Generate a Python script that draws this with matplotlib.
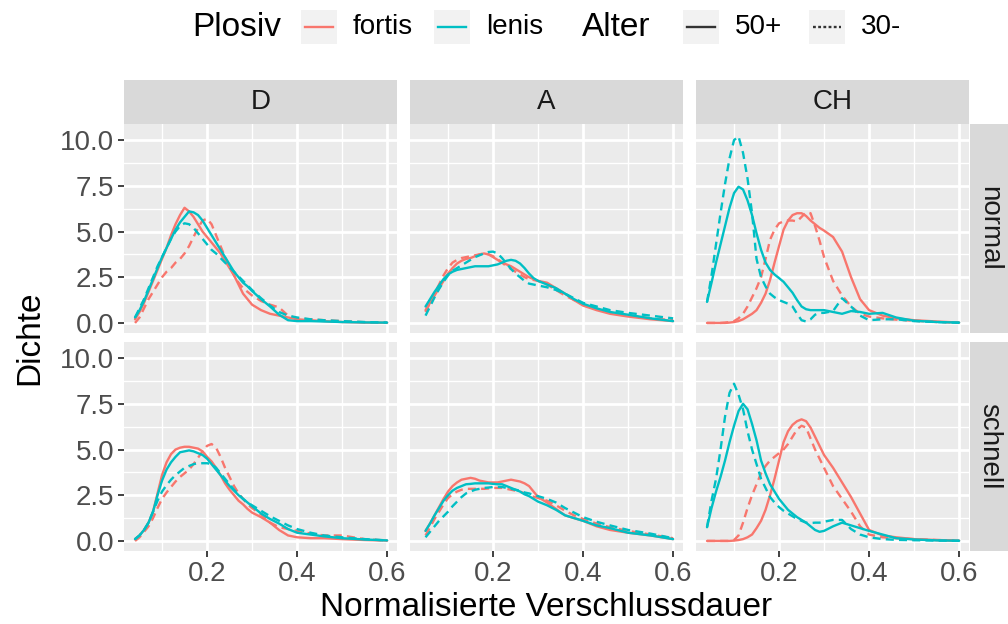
"""Faceted density curves of normalised closure duration (Plosiv x Alter)."""

import numpy as np
import matplotlib

matplotlib.use("Agg")
import matplotlib.pyplot as plt
from matplotlib.lines import Line2D
from matplotlib.patches import Rectangle

plt.rcParams["font.family"] = ["Liberation Sans", "DejaVu Sans"]

nan = float("nan")

# shared x grid of the density curves (normalised closure duration)
X = [0.04, 0.05, 0.06, 0.07, 0.08, 0.09, 0.10, 0.11, 0.12, 0.13, 0.14, 0.15,
     0.16, 0.17, 0.18, 0.19, 0.20, 0.21, 0.22, 0.23, 0.24, 0.25, 0.26, 0.27,
     0.28, 0.29, 0.30, 0.32, 0.34, 0.36, 0.38, 0.40, 0.43, 0.46, 0.50, 0.55,
     0.60]

COLUMNS = ["D", "A", "CH"]
ROWS = ["normal", "schnell"]
PLOSIV = ["fortis", "lenis"]
ALTER = ["50+", "30-"]

# --- row "normal" -----------------------------------------------------------
D_NORMAL_FORTIS_50 = [0.2, 0.6, 1.1, 1.7, 2.3, 2.9, 3.5, 4.1, 4.8, 5.4, 5.9, 6.3,
                      6.1, 5.8, 5.4, 5.0, 4.7, 4.4, 4.1, 3.8, 3.4, 3.0, 2.6, 2.1,
                      1.6, 1.3, 1.0, 0.7, 0.5, 0.4, 0.3, 0.2, 0.15, 0.1, 0.05,
                      0.02, 0.01]
D_NORMAL_FORTIS_30 = [0.0, 0.3, 0.8, 1.3, 1.7, 2.1, 2.5, 2.8, 3.0, 3.3, 3.5, 3.8,
                      4.2, 4.7, 5.2, 5.6, 5.7, 5.4, 4.8, 4.2, 3.6, 3.1, 2.6, 2.2,
                      1.9, 1.7, 1.5, 1.2, 1.0, 0.85, 0.4, 0.25, 0.2, 0.15, 0.1,
                      0.04, 0.02]
D_NORMAL_LENIS_50 = [0.3, 0.7, 1.2, 1.8, 2.4, 3.0, 3.6, 4.1, 4.6, 5.1, 5.5, 5.8,
                     6.1, 6.05, 5.9, 5.6, 5.2, 4.8, 4.4, 4.0, 3.6, 3.2, 2.8, 2.5,
                     2.2, 2.0, 1.75, 1.3, 0.9, 0.45, 0.15, 0.1, 0.1, 0.08, 0.05,
                     0.03, 0.02]
D_NORMAL_LENIS_30 = [0.3, 0.8, 1.3, 1.9, 2.5, 3.1, 3.6, 4.1, 4.6, 5.0, 5.3, 5.45,
                     5.4, 5.2, 4.9, 4.6, 4.3, 4.0, 3.8, 3.55, 3.3, 3.05, 2.8, 2.55,
                     2.3, 2.05, 1.8, 1.35, 0.95, 0.6, 0.4, 0.3, 0.2, 0.15, 0.1,
                     0.05, 0.02]

A_NORMAL_FORTIS_50 = [nan, 0.7, 1.1, 1.5, 1.9, 2.3, 2.7, 3.0, 3.25, 3.4, 3.5, 3.55,
                      3.65, 3.75, 3.8, 3.75, 3.6, 3.45, 3.3, 3.2, 3.1, 2.95, 2.8,
                      2.65, 2.5, 2.4, 2.3, 2.2, 1.9, 1.6, 1.25, 0.95, 0.7, 0.5,
                      0.35, 0.2, 0.1]
A_NORMAL_FORTIS_30 = [nan, 0.6, 1.1, 1.6, 2.1, 2.6, 3.0, 3.3, 3.45, 3.55, 3.6, 3.65,
                      3.7, 3.75, 3.8, 3.75, 3.65, 3.5, 3.3, 3.1, 2.95, 2.8, 2.65,
                      2.5, 2.4, 2.35, 2.3, 2.1, 1.8, 1.5, 1.25, 1.0, 0.75, 0.55,
                      0.4, 0.25, 0.15]
A_NORMAL_LENIS_50 = [nan, 0.9, 1.3, 1.7, 2.05, 2.4, 2.65, 2.8, 2.9, 2.95, 3.0, 3.05,
                     3.1, 3.1, 3.1, 3.1, 3.15, 3.2, 3.3, 3.4, 3.45, 3.4, 3.25, 3.0,
                     2.7, 2.45, 2.3, 2.1, 1.9, 1.6, 1.3, 1.05, 0.8, 0.6, 0.45,
                     0.25, 0.1]
A_NORMAL_LENIS_30 = [nan, 0.4, 0.9, 1.4, 1.85, 2.25, 2.6, 2.85, 3.0, 3.15, 3.3, 3.45,
                     3.6, 3.7, 3.8, 3.88, 3.9, 3.8, 3.55, 3.25, 2.95, 2.7, 2.5, 2.3,
                     2.15, 2.1, 2.05, 1.95, 1.8, 1.6, 1.35, 1.1, 0.9, 0.7, 0.55,
                     0.4, 0.25]

CH_NORMAL_FORTIS_50 = [0.0, 0.0, 0.0, 0.0, 0.0, 0.02, 0.05, 0.1, 0.2, 0.35, 0.5, 0.7,
                       1.1, 1.6, 2.35, 3.3, 4.2, 5.1, 5.6, 5.9, 6.0, 6.0, 5.85, 5.6,
                       5.4, 5.2, 5.05, 4.7, 3.9, 2.5, 1.3, 0.7, 0.4, 0.25, 0.15,
                       0.08, 0.02]
CH_NORMAL_FORTIS_30 = [0.0, 0.0, 0.0, 0.0, 0.02, 0.05, 0.1, 0.25, 0.5, 0.9, 1.4, 1.9,
                       2.5, 3.5, 4.55, 5.1, 5.45, 5.55, 5.6, 5.6, 5.55, 5.8, 6.05,
                       6.0, 5.3, 4.5, 3.6, 2.3, 1.5, 0.9, 0.5, 0.35, 0.25, 0.18,
                       0.12, 0.05, 0.02]
CH_NORMAL_LENIS_50 = [1.15, 2.2, 3.3, 4.3, 5.3, 6.3, 7.1, 7.45, 7.3, 6.7, 5.9, 4.9,
                      4.0, 3.3, 2.9, 2.65, 2.45, 2.25, 1.95, 1.65, 1.25, 0.9, 0.75,
                      0.7, 0.7, 0.7, 0.7, 0.6, 0.5, 0.65, 0.6, 0.5, 0.55, 0.3,
                      0.12, 0.05, 0.02]
CH_NORMAL_LENIS_30 = [1.15, 2.6, 4.3, 6.0, 7.6, 9.0, 10.0, 10.2, 9.3, 7.9, 6.0, 3.5,
                      2.5, 2.0, 1.6, 1.4, 1.25, 1.15, 1.05, 0.9, 0.5, 0.15, 0.08,
                      0.2, 0.45, 0.55, 0.55, 0.65, 1.35, 0.9, 0.4, 0.15, 0.2, 0.2,
                      0.1, 0.05, 0.01]

# --- row "schnell" ----------------------------------------------------------
D_SCHNELL_FORTIS_50 = [0.1, 0.3, 0.6, 1.0, 1.6, 2.6, 3.6, 4.3, 4.75, 5.0, 5.1, 5.15,
                       5.15, 5.1, 5.05, 4.9, 4.6, 4.35, 4.0, 3.6, 3.15, 2.8, 2.5,
                       2.2, 2.0, 1.75, 1.55, 1.3, 1.0, 0.6, 0.3, 0.2, 0.15, 0.15,
                       0.1, 0.05, 0.02]
D_SCHNELL_FORTIS_30 = [0.0, 0.2, 0.5, 0.8, 1.25, 1.8, 2.3, 2.65, 2.95, 3.25, 3.5, 3.7,
                       3.9, 4.2, 4.55, 4.9, 5.2, 5.3, 5.1, 4.6, 4.0, 3.5, 3.0, 2.6,
                       2.3, 2.0, 1.8, 1.45, 1.0, 0.75, 0.65, 0.55, 0.4, 0.3, 0.3,
                       0.1, 0.02]
D_SCHNELL_LENIS_50 = [0.1, 0.3, 0.6, 1.0, 1.6, 2.5, 3.3, 3.9, 4.3, 4.6, 4.85, 4.9,
                      4.95, 4.9, 4.8, 4.7, 4.5, 4.2, 3.9, 3.6, 3.3, 3.0, 2.75, 2.5,
                      2.3, 2.1, 1.9, 1.5, 1.2, 0.95, 0.65, 0.45, 0.35, 0.25, 0.15,
                      0.08, 0.03]
D_SCHNELL_LENIS_30 = [0.1, 0.3, 0.6, 1.0, 1.6, 2.2, 2.7, 3.05, 3.35, 3.6, 3.8, 4.0,
                      4.1, 4.2, 4.25, 4.25, 4.25, 4.2, 4.0, 3.7, 3.4, 3.1, 2.8, 2.55,
                      2.3, 2.1, 1.95, 1.65, 1.35, 1.1, 0.85, 0.65, 0.45, 0.3, 0.2,
                      0.1, 0.03]

A_SCHNELL_FORTIS_50 = [nan, 0.55, 0.95, 1.4, 1.85, 2.3, 2.7, 3.0, 3.2, 3.35, 3.4,
                       3.45, 3.4, 3.3, 3.25, 3.2, 3.2, 3.2, 3.25, 3.3, 3.35, 3.3,
                       3.25, 3.15, 3.0, 2.7, 2.4, 2.1, 1.75, 1.4, 1.25, 1.1, 0.8,
                       0.6, 0.45, 0.3, 0.1]
A_SCHNELL_FORTIS_30 = [nan, 0.3, 0.75, 1.2, 1.6, 2.0, 2.35, 2.55, 2.7, 2.8, 2.85,
                       2.85, 2.85, 2.85, 2.85, 2.87, 2.9, 2.9, 2.9, 2.85, 2.8, 2.75,
                       2.7, 2.6, 2.5, 2.42, 2.35, 2.2, 1.95, 1.65, 1.4, 1.2, 0.95,
                       0.75, 0.55, 0.35, 0.15]
A_SCHNELL_LENIS_50 = [nan, 0.55, 0.95, 1.4, 1.8, 2.2, 2.5, 2.75, 2.9, 3.0, 3.1, 3.12,
                      3.15, 3.15, 3.15, 3.15, 3.12, 3.1, 3.1, 3.0, 2.9, 2.8, 2.7,
                      2.55, 2.45, 2.3, 2.15, 1.95, 1.7, 1.4, 1.25, 1.1, 0.85, 0.7,
                      0.45, 0.3, 0.1]
A_SCHNELL_LENIS_30 = [nan, 0.2, 0.5, 0.8, 1.1, 1.35, 1.6, 1.9, 2.15, 2.4, 2.6, 2.7,
                      2.8, 2.85, 2.9, 2.92, 2.95, 2.95, 2.95, 2.9, 2.85, 2.8, 2.75,
                      2.65, 2.6, 2.52, 2.45, 2.3, 2.1, 1.8, 1.55, 1.3, 1.05, 0.85,
                      0.6, 0.4, 0.15]

CH_SCHNELL_FORTIS_50 = [0.0, 0.0, 0.0, 0.0, 0.0, 0.0, 0.02, 0.05, 0.1, 0.2, 0.35, 0.7,
                        1.1, 1.7, 2.5, 3.4, 4.4, 5.4, 6.0, 6.35, 6.55, 6.65, 6.55,
                        6.2, 5.7, 5.2, 4.7, 4.0, 3.2, 2.4, 1.5, 0.6, 0.3, 0.2, 0.1,
                        0.05, 0.02]
CH_SCHNELL_FORTIS_30 = [0.0, 0.0, 0.0, 0.0, 0.0, 0.0, 0.05, 0.3, 1.0, 1.8, 2.5, 3.1,
                        3.7, 4.1, 4.4, 4.6, 4.8, 5.0, 5.3, 5.7, 6.1, 6.3, 6.2, 5.6,
                        5.0, 4.5, 4.0, 3.0, 2.3, 1.6, 0.8, 0.35, 0.2, 0.15, 0.1,
                        0.05, 0.02]
CH_SCHNELL_LENIS_50 = [0.75, 1.8, 2.7, 3.5, 4.4, 5.4, 6.3, 7.1, 7.5, 7.2, 6.4, 5.5,
                       4.4, 3.7, 3.1, 2.7, 2.3, 2.0, 1.7, 1.5, 1.3, 1.15, 1.0, 0.8,
                       0.6, 0.5, 0.55, 0.8, 1.0, 0.85, 0.7, 0.55, 0.35, 0.15, 0.08,
                       0.03, 0.01]
CH_SCHNELL_LENIS_30 = [0.75, 2.2, 3.4, 5.0, 6.8, 8.1, 8.6, 8.0, 7.2, 6.0, 5.0, 4.2,
                       3.4, 2.9, 2.4, 2.1, 1.85, 1.65, 1.5, 1.35, 1.2, 1.1, 1.0, 0.98,
                       1.0, 1.0, 1.05, 1.15, 1.15, 0.65, 0.35, 0.2, 0.1, 0.06, 0.04,
                       0.02, 0.01]

CURVES = {
    ("normal", "D"): [D_NORMAL_FORTIS_50, D_NORMAL_FORTIS_30,
                      D_NORMAL_LENIS_50, D_NORMAL_LENIS_30],
    ("normal", "A"): [A_NORMAL_FORTIS_50, A_NORMAL_FORTIS_30,
                      A_NORMAL_LENIS_50, A_NORMAL_LENIS_30],
    ("normal", "CH"): [CH_NORMAL_FORTIS_50, CH_NORMAL_FORTIS_30,
                       CH_NORMAL_LENIS_50, CH_NORMAL_LENIS_30],
    ("schnell", "D"): [D_SCHNELL_FORTIS_50, D_SCHNELL_FORTIS_30,
                       D_SCHNELL_LENIS_50, D_SCHNELL_LENIS_30],
    ("schnell", "A"): [A_SCHNELL_FORTIS_50, A_SCHNELL_FORTIS_30,
                       A_SCHNELL_LENIS_50, A_SCHNELL_LENIS_30],
    ("schnell", "CH"): [CH_SCHNELL_FORTIS_50, CH_SCHNELL_FORTIS_30,
                        CH_SCHNELL_LENIS_50, CH_SCHNELL_LENIS_30],
}

X_TICKS = [0.2, 0.4, 0.6]
X_MINOR = [0.1, 0.3, 0.5]
Y_TICKS = [0.0, 2.5, 5.0, 7.5, 10.0]
Y_MINOR = [1.25, 3.75, 6.25, 8.75]

COLORS = {"fortis": "#F8766D", "lenis": "#00BFC4"}
DASHES = {"50+": "-", "30-": (0, (3.4, 2.2))}

W, H = 1008, 624
COL_X = [(124, 397), (410, 683), (696, 969)]
ROW_Y = [(124, 333), (342, 551)]
TICK_SIZE = 20
TITLE_SIZE = 24


def rect(x0, y0, x1, y1):
    """Pixel box (top-left origin) -> figure axes rect."""
    return [x0 / W, 1 - y1 / H, (x1 - x0) / W, (y1 - y0) / H]


def strip_axes(box, label, rotation=0):
    """Grey facet strip with its label."""
    sx = fig.add_axes(rect(*box))
    sx.set_facecolor("#D9D9D9")
    sx.set_xticks([])
    sx.set_yticks([])
    for s in sx.spines.values():
        s.set_visible(False)
    sx.text(0.5, 0.5, label, ha="center", va="center", rotation=rotation,
            fontsize=TICK_SIZE, color="#1A1A1A")


fig = plt.figure(figsize=(W / 100, H / 100), dpi=100)

for r, row in enumerate(ROWS):
    for c, col in enumerate(COLUMNS):
        x0, x1 = COL_X[c]
        y0, y1 = ROW_Y[r]
        ax = fig.add_axes(rect(x0, y0, x1, y1))
        ax.set_facecolor("#EBEBEB")
        for s in ax.spines.values():
            s.set_visible(False)
        ax.set_xlim(0.0155, 0.622)
        ax.set_ylim(-0.55, 10.88)
        ax.set_xticks(X_TICKS)
        ax.set_xticks(X_MINOR, minor=True)
        ax.set_yticks(Y_TICKS)
        ax.set_yticks(Y_MINOR, minor=True)
        ax.grid(True, which="major", color="white", lw=2.0)
        ax.grid(True, which="minor", color="white", lw=1.0)
        ax.set_axisbelow(True)
        ax.tick_params(which="minor", length=0)
        ax.tick_params(which="major", length=4.5, width=1.3, color="#333333",
                       labelcolor="#4D4D4D", labelsize=TICK_SIZE, pad=2.5)
        ax.set_xticklabels([f"{t:.1f}" for t in X_TICKS])
        ax.set_yticklabels([f"{t:.1f}" for t in Y_TICKS])
        if r == 0:
            ax.tick_params(axis="x", bottom=False, labelbottom=False)
        if c > 0:
            ax.tick_params(axis="y", left=False, labelleft=False)

        series = CURVES[(row, col)]
        k = 0
        for plosiv in PLOSIV:
            for alter in ALTER:
                ax.plot(X, np.array(series[k], dtype=float),
                        color=COLORS[plosiv], linestyle=DASHES[alter],
                        lw=1.7, solid_capstyle="round")
                k += 1

        if r == 0:
            strip_axes((x0, 80, x1, 124), col)

    y0, y1 = ROW_Y[r]
    strip_axes((970, y0, 1008, y1), row, rotation=-90)

# axis titles
fig.text(546.5 / W, 1 - 607 / H, "Normalisierte Verschlussdauer",
         ha="center", va="center", fontsize=TITLE_SIZE, color="black")
fig.text(30 / W, 1 - 338 / H, "Dichte", ha="center", va="center",
         rotation=90, fontsize=TITLE_SIZE, color="black")

# legend (drawn by hand, ggplot style, on top)
LEG_Y = 27
fig.text(192 / W, 1 - LEG_Y / H, "Plosiv", ha="left", va="center",
         fontsize=TITLE_SIZE, color="black")
fig.text(582 / W, 1 - LEG_Y / H, "Alter", ha="left", va="center",
         fontsize=TITLE_SIZE, color="black")

legend_items = [
    (301, COLORS["fortis"], "-", "fortis"),
    (434, COLORS["lenis"], "-", "lenis"),
    (683, "#333333", "-", "50+"),
    (809, "#333333", (0, (1.2, 1.0)), "30-"),
]
for kx, color, style, label in legend_items:
    fig.patches.append(Rectangle((kx / W, 1 - (LEG_Y + 17) / H), 36 / W, 34 / H,
                                 transform=fig.transFigure, facecolor="#F2F2F2",
                                 edgecolor="none"))
    fig.lines.append(Line2D([(kx + 4) / W, (kx + 32) / W],
                            [1 - LEG_Y / H, 1 - LEG_Y / H],
                            transform=fig.transFigure, color=color,
                            linestyle=style, lw=1.7))
    fig.text((kx + 52) / W, 1 - LEG_Y / H, label, ha="left", va="center",
             fontsize=TICK_SIZE, color="black")

fig.savefig("out.png", dpi=100)
